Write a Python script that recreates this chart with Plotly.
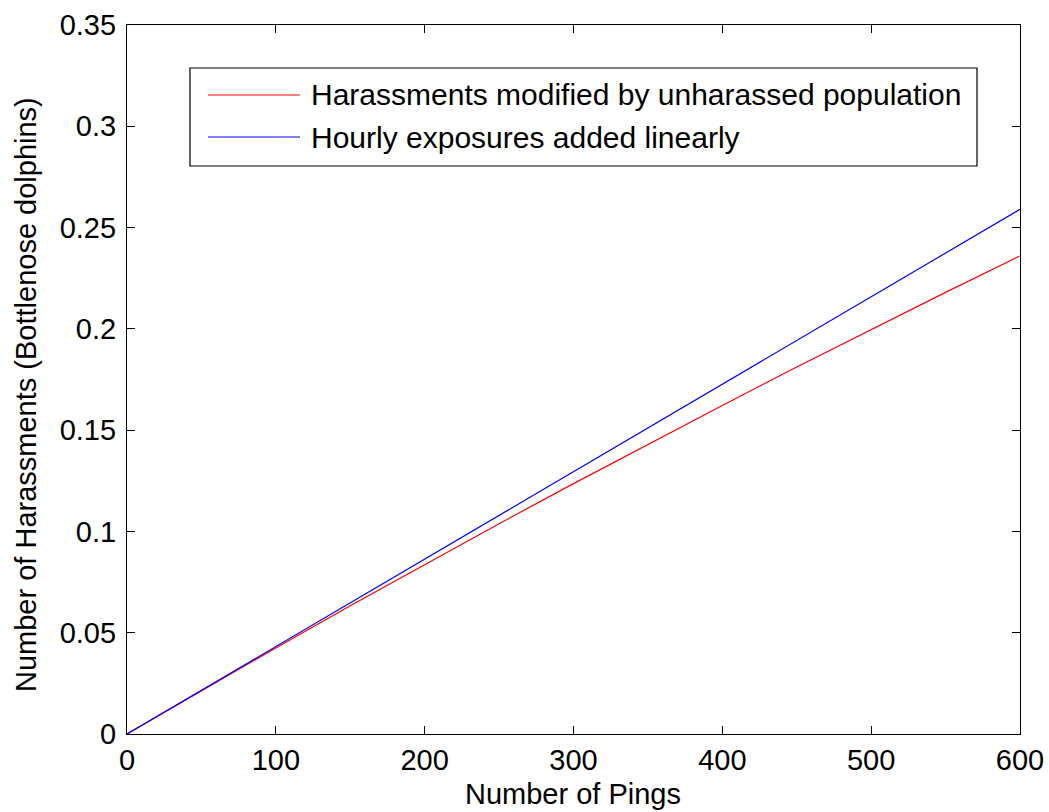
import plotly.graph_objects as go

pings = [0, 50, 100, 150, 200, 250, 300, 350, 400, 450, 500, 550, 600]
harass_modified = [0.0, 0.0214, 0.0425, 0.0633, 0.0837, 0.1038, 0.1236,
                   0.1431, 0.1622, 0.1812, 0.1997, 0.2180, 0.2360]
hourly_linear = [0.0, 0.0216, 0.0432, 0.0648, 0.0864, 0.1080, 0.1296,
                 0.1512, 0.1728, 0.1944, 0.2160, 0.2376, 0.2590]

series_names = ["Harassments modified by unharassed population",
                "Hourly exposures added linearly"]
series_colors = ["#ff0000", "#0000ff"]

x_ticks = [0, 100, 200, 300, 400, 500, 600]
y_ticks = [0, 0.05, 0.1, 0.15, 0.2, 0.25, 0.3, 0.35]
y_tick_labels = ["0", "0.05", "0.1", "0.15", "0.2", "0.25", "0.3", "0.35"]

FONT = "Liberation Sans, Arial, Helvetica, sans-serif"

fig = go.Figure()
for name, ys, col in zip(series_names, [harass_modified, hourly_linear], series_colors):
    fig.add_trace(go.Scatter(x=pings, y=ys, mode="lines", name=name,
                             line=dict(color=col, width=1.2), showlegend=False))

W, H = 1049, 812
L, R, T, B = 127, 29, 25, 78
pw, ph = W - L - R, H - T - B

def px(xp):
    return (xp - L) / pw

def py(yp):
    return (H - B - yp) / ph

shapes = []
annotations = []
# legend box
shapes.append(dict(type="rect", xref="paper", yref="paper",
                   x0=px(190), x1=px(977), y0=py(166), y1=py(68),
                   line=dict(color="black", width=1.2), fillcolor="white", layer="above"))
rows = [95, 137]
for name, col, yrow in zip(series_names, series_colors, rows):
    shapes.append(dict(type="line", xref="paper", yref="paper",
                       x0=px(208), x1=px(300), y0=py(yrow), y1=py(yrow),
                       line=dict(color=col, width=1.2), layer="above"))
    annotations.append(dict(xref="paper", yref="paper", x=px(309), y=py(yrow),
                            text=name, showarrow=False, xanchor="left", yanchor="middle",
                            font=dict(family=FONT, size=30, color="black")))

# axis titles as annotations for exact placement
annotations.append(dict(xref="paper", yref="paper", x=px(573), y=py(794),
                        text="Number of Pings", showarrow=False,
                        xanchor="center", yanchor="middle",
                        font=dict(family=FONT, size=29, color="black")))
annotations.append(dict(xref="paper", yref="paper", x=px(26), y=py(395),
                        text="Number of Harassments (Bottlenose dolphins)", showarrow=False,
                        textangle=-90, xanchor="center", yanchor="middle",
                        font=dict(family=FONT, size=29, color="black")))

fig.update_layout(
    width=W, height=H,
    margin=dict(l=L, r=R, t=T, b=B, autoexpand=False),
    paper_bgcolor="white", plot_bgcolor="white",
    font=dict(family=FONT, size=29, color="black"),
    shapes=shapes, annotations=annotations,
    xaxis=dict(range=[0, 600], tickvals=x_ticks, ticktext=[str(v) for v in x_ticks],
               ticks="inside", ticklen=8, tickcolor="black", tickwidth=1,
               showline=True, linecolor="black", linewidth=1.2, mirror="ticks",
               showgrid=False, zeroline=False, automargin=False,
               tickfont=dict(family=FONT, size=29)),
    yaxis=dict(range=[0, 0.35], tickvals=y_ticks, ticktext=y_tick_labels,
               ticks="inside", ticklen=8, tickcolor="black", tickwidth=1,
               showline=True, linecolor="black", linewidth=1.2, mirror="ticks",
               showgrid=False, zeroline=False, automargin=False,
               ticklabelstandoff=4,
               tickfont=dict(family=FONT, size=29)),
)

fig.write_html("out.html")
